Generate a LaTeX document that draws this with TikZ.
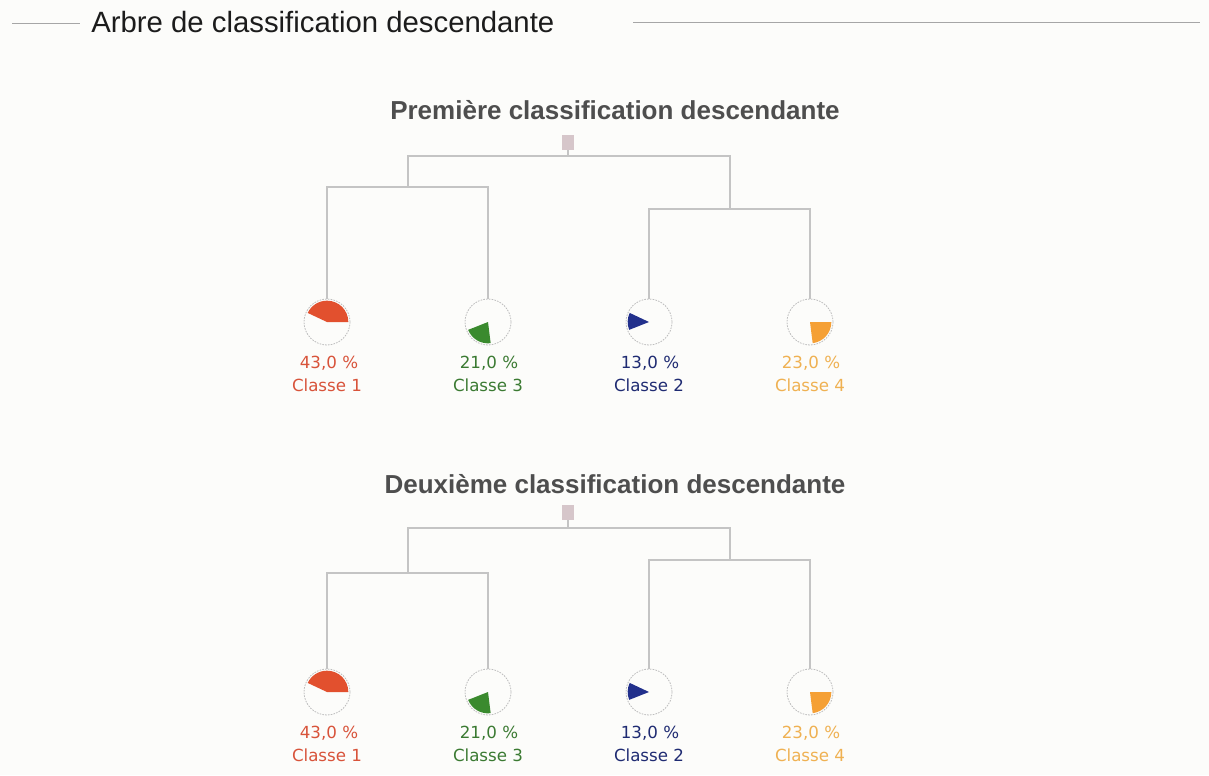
\documentclass[tikz,border=0pt]{standalone}
\usepackage{fontspec}
\setmainfont{Liberation Sans}
\newfontfamily\lblfont{DejaVu Sans}
\definecolor{bg}{HTML}{FCFCFA}
\definecolor{edgegray}{HTML}{C4C4C4}
\definecolor{circgray}{HTML}{BDBDBD}
\definecolor{rootpink}{HTML}{D6C6CA}
\definecolor{ttlgray}{HTML}{4E4E4E}
\definecolor{hdrblack}{HTML}{1C1C1C}
\definecolor{redfill}{HTML}{E2502E}
\definecolor{redtxt}{HTML}{D8533A}
\definecolor{greenfill}{HTML}{3A8A2E}
\definecolor{greentxt}{HTML}{3B7A32}
\definecolor{bluefill}{HTML}{22308C}
\definecolor{bluetxt}{HTML}{1F2B72}
\definecolor{orangefill}{HTML}{F5A035}
\definecolor{orangetxt}{HTML}{EFB152}
\tikzset{
  edge/.style={draw=edgegray, line width=0.9pt},
  rule/.style={draw=gray!70, line width=0.7pt},
  rootsq/.style={draw=none, fill=rootpink, minimum width=9pt, minimum height=11.25pt, inner sep=0pt},
  leaf/.style={circle, draw=circgray, dash pattern=on 1.2pt off 0.9pt, line width=0.6pt, minimum size=34.5pt, inner sep=0pt},
  lbl/.style={font=\lblfont\fontsize{12.5}{14}\selectfont, inner sep=0pt},
  ttl/.style={font=\bfseries\fontsize{19.5}{22}\selectfont, text=ttlgray, inner sep=0pt},
  hdr/.style={font=\fontsize{22}{25}\selectfont, text=hdrblack, inner sep=0pt},
}
\newcommand\cdsector[4]{%
  \fill[#4] (#1.center) -- ++(#2:16pt) arc[start angle=#2, end angle=#3, radius=16pt] -- cycle;}
\newcommand\cdtree[8]{%
  \node[ttl, anchor=base] (#1t) at (615,#3) {#2};
  \node[rootsq] (#1r) at (568,#4) {};
  \coordinate (#1top) at (568,#5);
  \coordinate (#1a) at (408,#6);
  \coordinate (#1b) at (730,#7);
  \node[leaf] (#1c1) at (327,#8) {};
  \node[leaf] (#1c3) at (488,#8) {};
  \node[leaf] (#1c2) at (649,#8) {};
  \node[leaf] (#1c4) at (810,#8) {};
  \draw[edge] (#1r.south) -- (#1top);
  \draw[edge] (#1a) |- (#1top) -| (#1b);
  \draw[edge] (#1c1.north) |- (#1a) -| (#1c3.north);
  \draw[edge] (#1c2.north) |- (#1b) -| (#1c4.north);
  \cdsector{#1c1}{0}{154.8}{redfill}
  \cdsector{#1c2}{154.8}{201.6}{bluefill}
  \cdsector{#1c3}{201.6}{277.2}{greenfill}
  \cdsector{#1c4}{277.2}{360}{orangefill}
  \node[lbl, text=redtxt] (#1p1) at (329,#8+41) {43,0 \%};
  \node[lbl, text=redtxt] (#1n1) at (327,#8+63) {Classe 1};
  \node[lbl, text=greentxt] (#1p3) at (489,#8+41) {21,0 \%};
  \node[lbl, text=greentxt] (#1n3) at (488,#8+63) {Classe 3};
  \node[lbl, text=bluetxt] (#1p2) at (650,#8+41) {13,0 \%};
  \node[lbl, text=bluetxt] (#1n2) at (649,#8+63) {Classe 2};
  \node[lbl, text=orangetxt] (#1p4) at (811,#8+41) {23,0 \%};
  \node[lbl, text=orangetxt] (#1n4) at (810,#8+63) {Classe 4};
}
\begin{document}
\begin{tikzpicture}[x=0.75pt, y=-0.75pt]
  \useasboundingbox (0,0) rectangle (1209,775);
  \fill[bg] (0,0) rectangle (1209,775);
  % header
  \node[hdr, anchor=base west] (hdr) at (91,32) {Arbre de classification descendante};
  \coordinate (hl1) at (12,23);
  \coordinate (hl2) at (80,23);
  \coordinate (hr1) at (633,22);
  \coordinate (hr2) at (1200,22);
  \draw[rule] (hl1) -- (hl2);
  \draw[rule] (hr1) -- (hr2);
  % trees
  \cdtree{A}{Première classification descendante}{119}{142.5}{156}{187}{209}{322}
  \cdtree{B}{Deuxième classification descendante}{493}{512.5}{528}{573}{560}{692}
\end{tikzpicture}
\end{document}
